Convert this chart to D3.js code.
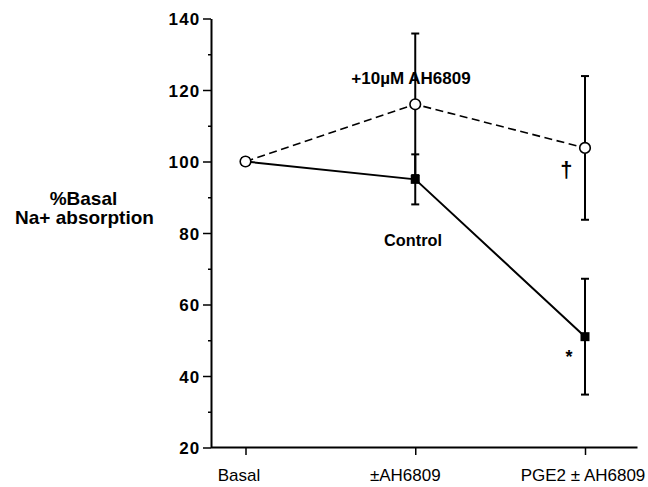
<!DOCTYPE html>
<html><head><meta charset="utf-8">
<script src="https://cdn.jsdelivr.net/npm/d3@7"></script>
<style>body{margin:0;background:#fff}svg{display:block}text{font-family:"Liberation Sans",Arial,sans-serif;fill:#000}</style>
</head><body><svg id="c" width="648" height="487"></svg>
<script>
const categories = ["Basal", "\u00B1AH6809", "PGE2 \u00B1 AH6809"];
const controlMean = [100, 95, 51];
const controlErr = [0, 7, 16.2];
const ahMean = [100, 116, 103.8];
const ahErr = [0, 19.8, 20.1];
const yTicks = [20, 40, 60, 80, 100, 120, 140];
const yMinorTicks = [30, 50, 70, 90, 110, 130];

const svg = d3.select("#c");
const x = d3.scalePoint().domain(categories).range([245.5, 585]);
const y = d3.scaleLinear().domain([20, 140]).range([447.5, 18.5]);
const axisX = 211, xEnd = 637.5;
const xLabelShift = [-7, -10.5, -2.5];

// Y axis
const gy = svg.append("g").attr("transform", `translate(${axisX},0)`);
gy.call(d3.axisLeft(y).tickValues(yTicks).tickSize(8).tickSizeOuter(0).tickPadding(2.5));
gy.select(".domain").attr("stroke-width", 2);
gy.selectAll(".tick line").attr("stroke-width", 1.5);
gy.selectAll(".tick text").style("font-size", "17px").style("font-weight", "bold")
  .style("letter-spacing", "1.2px").attr("dy", "0.36em");
const gym = svg.append("g").attr("transform", `translate(${axisX},0)`);
gym.call(d3.axisLeft(y).tickValues(yMinorTicks).tickSize(3).tickSizeOuter(0).tickFormat(""));
gym.select(".domain").remove();
gym.selectAll(".tick line").attr("stroke-width", 1.5);

// X axis
const gx = svg.append("g").attr("transform", `translate(0,${y(20)})`);
gx.call(d3.axisBottom(x).tickSize(7.5).tickSizeOuter(0).tickPadding(0));
gx.select(".domain").remove();
gx.append("line").attr("x1", axisX).attr("x2", xEnd).attr("stroke", "#000").attr("stroke-width", 2);
gx.selectAll(".tick line").attr("stroke-width", 1.5);
gx.selectAll(".tick text").style("font-size", "17px")
  .attr("dy", null).attr("y", 33).attr("dx", (d, i) => xLabelShift[i]);

// Error bars
function errBars(mean, err) {
  const g = svg.append("g").attr("stroke", "#000").attr("stroke-width", 2);
  categories.forEach((c, i) => {
    if (!err[i]) return;
    const cx = x(c), t = y(mean[i] + err[i]), b = y(mean[i] - err[i]);
    g.append("line").attr("x1", cx).attr("x2", cx).attr("y1", t).attr("y2", b);
    g.append("line").attr("x1", cx - 4).attr("x2", cx + 4).attr("y1", t).attr("y2", t);
    g.append("line").attr("x1", cx - 4).attr("x2", cx + 4).attr("y1", b).attr("y2", b);
  });
}
errBars(ahMean, ahErr);
errBars(controlMean, controlErr);

const line = d3.line().x((d, i) => x(categories[i])).y(d => y(d));
svg.append("path").datum(ahMean).attr("d", line).attr("fill", "none")
  .attr("stroke", "#000").attr("stroke-width", 1.6).attr("stroke-dasharray", "8,4.5");
svg.append("path").datum(controlMean).attr("d", line).attr("fill", "none")
  .attr("stroke", "#000").attr("stroke-width", 2);

svg.append("g").selectAll("rect").data(controlMean).join("rect")
  .attr("x", (d, i) => x(categories[i]) - 4.5).attr("y", d => y(d) - 4.5)
  .attr("width", 9).attr("height", 9).attr("fill", "#000");
svg.append("g").selectAll("circle").data(ahMean).join("circle")
  .attr("cx", (d, i) => x(categories[i])).attr("cy", d => y(d)).attr("r", 5.3)
  .attr("fill", "#fff").attr("stroke", "#000").attr("stroke-width", 1.6);

// Annotations
svg.append("text").attr("x", 411).attr("y", 83.5).attr("text-anchor", "middle")
  .style("font-size", "17px").style("font-weight", "bold").text("+10\u00B5M AH6809");
svg.append("text").attr("x", 413).attr("y", 246).attr("text-anchor", "middle")
  .style("font-size", "16.3px").style("font-weight", "bold").text("Control");
svg.append("text").attr("x", 566.3).attr("y", 177).attr("text-anchor", "middle")
  .style("font-size", "22px").style("font-weight", "bold").style("fill", "#000").text("\u2020");
svg.append("text").attr("x", 569).attr("y", 363).attr("text-anchor", "middle")
  .style("font-size", "18px").style("font-weight", "bold").text("*");

// Y title
const yt = svg.append("text").attr("text-anchor", "middle").style("font-size", "19px").style("font-weight", "bold");
yt.append("tspan").attr("x", 83.5).attr("y", 205).text("%Basal");
yt.append("tspan").attr("x", 84.5).attr("y", 224).text("Na+ absorption");
</script></body></html>
